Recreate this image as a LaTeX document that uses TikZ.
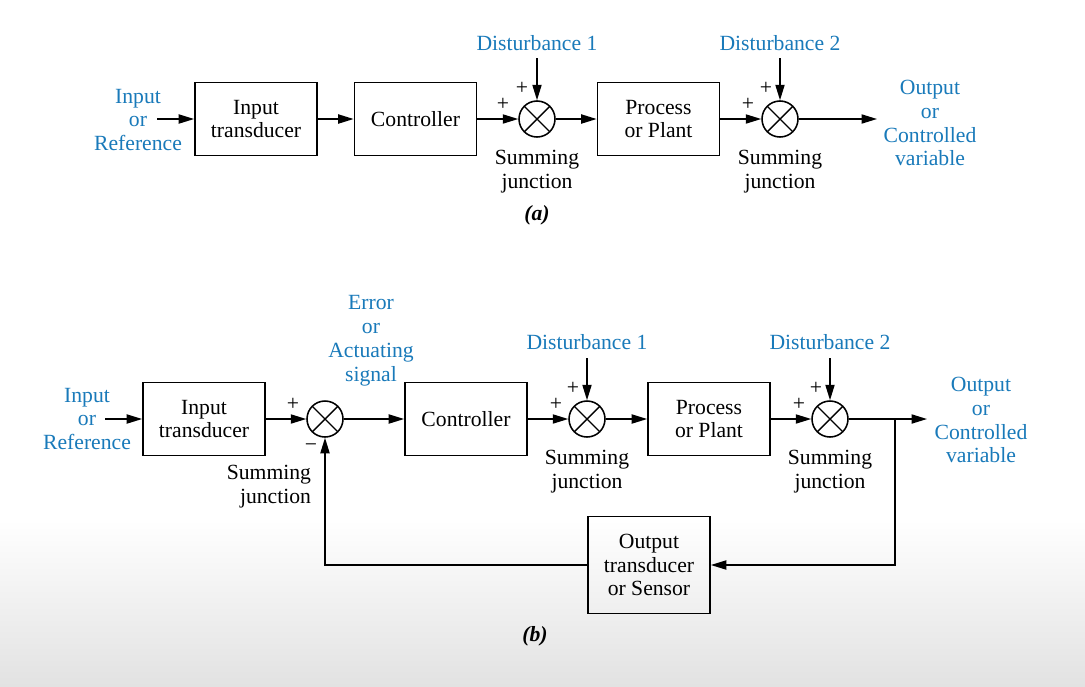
\documentclass[tikz,border=0pt]{standalone}
\usepackage{fontspec}
\setmainfont{Liberation Serif}
\usepackage{tikz}
\usetikzlibrary{calc,arrows.meta}
\definecolor{lblue}{RGB}{25,122,186}
\definecolor{bggray}{RGB}{226,226,226}

\begin{document}
\begin{tikzpicture}[x=0.025cm,y=-0.025cm,
  every node/.style={font=\fontsize{15.4}{17}\selectfont, align=center},
  block/.style={draw, line width=1.2pt, minimum width=3.05cm, minimum height=1.825cm, inner sep=0pt},
  sumj/.style={draw, circle, line width=1.1pt, minimum size=0.9cm, inner sep=0pt,
    path picture={\draw[line width=1pt] (path picture bounding box.north west) -- (path picture bounding box.south east)
      (path picture bounding box.north east) -- (path picture bounding box.south west);}},
  sig/.style={text=lblue},
  arr/.style={line width=1.1pt, -{Triangle[length=11pt,width=6.5pt]}}]
\useasboundingbox (0,0) rectangle (1085,686);
\fill[white] (0,0) rectangle (1085,520);
\shade[top color=white, bottom color=bggray] (0,520) rectangle (1085,686);

% (a) open loop
\node (ia) at (138,120) [sig] {Input\\or\\Reference};
\coordinate (a0) at (157,119);
\node (ta) at (256,119) [block] {Input\\transducer};
\node (ca) at (415.5,119) [block] {Controller};
\node (s1) at (537,119) [sumj] {};
\node (pa) at (658.5,119) [block] {Process\\or Plant};
\node (s2) at (780,119) [sumj] {};
\coordinate (a1) at (877,119);
\node (oa) at (930,123) [sig] {Output\\or\\Controlled\\variable};
\node (da1) at (537,43) [sig] {Disturbance 1};
\node (da2) at (780,43) [sig] {Disturbance 2};
\coordinate (d1) at (537,58);
\coordinate (d2) at (780,58);
\node at (503,104) {+};
\node at (522,88) {+};
\node at (748,104) {+};
\node at (766,88) {+};
\node at (537,172) {Summing\\junction};
\node at (780,172) {Summing\\junction};
\node at (537,215) {\bfseries\itshape (a)};
\draw[arr] (a0) to (ta.west);
\draw[arr] (ta.east) to (ca.west);
\draw[arr] (ca.east) to (s1.west);
\draw[arr] (s1.east) to (pa.west);
\draw[arr] (pa.east) to (s2.west);
\draw[arr] (s2.east) to (a1);
\draw[arr] (d1) to (s1.north);
\draw[arr] (d2) to (s2.north);

% (b) closed loop
\node (ib) at (87,419) [sig] {Input\\or\\Reference};
\coordinate (b0) at (105,419);
\node (tb) at (204,419) [block] {Input\\transducer};
\node (s3) at (325,419) [sumj] {};
\node (eb) at (371,341) [sig] {Error\\or\\Actuating\\signal};
\node (cb) at (466,419) [block] {Controller};
\node (s4) at (587,419) [sumj] {};
\node (pb) at (709,419) [block] {Process\\or Plant};
\node (s5) at (830,419) [sumj] {};
\coordinate (br) at (895,419);
\coordinate (b1) at (927,419);
\node (ob) at (981,420) [sig] {Output\\or\\Controlled\\variable};
\node (sb) at (649,565) [block, minimum height=2.425cm] {Output\\transducer\\or Sensor};
\node (db1) at (587,342) [sig] {Disturbance 1};
\node (db2) at (830,342) [sig] {Disturbance 2};
\coordinate (d3) at (587,358);
\coordinate (d4) at (830,358);
\node at (293,404) {+};
\node at (311,448) {−};
\node at (556,404) {+};
\node at (573,388) {+};
\node at (799,404) {+};
\node at (816,388) {+};
\node at (316,487) [anchor=east, align=right] {Summing\\junction};
\node at (587,472) {Summing\\junction};
\node at (830,472) {Summing\\junction};
\node at (535,636) {\bfseries\itshape (b)};
\draw[arr] (b0) to (tb.west);
\draw[arr] (tb.east) to (s3.west);
\draw[arr] (s3.east) to (cb.west);
\draw[arr] (cb.east) to (s4.west);
\draw[arr] (s4.east) to (pb.west);
\draw[arr] (pb.east) to (s5.west);
\draw[arr] (s5.east) to (b1);
\draw[arr] (d3) to (s4.north);
\draw[arr] (d4) to (s5.north);
\draw[arr] (br) |- (sb.east);
\draw[arr] (sb.west) -| (s3.south);
\end{tikzpicture}
\end{document}
